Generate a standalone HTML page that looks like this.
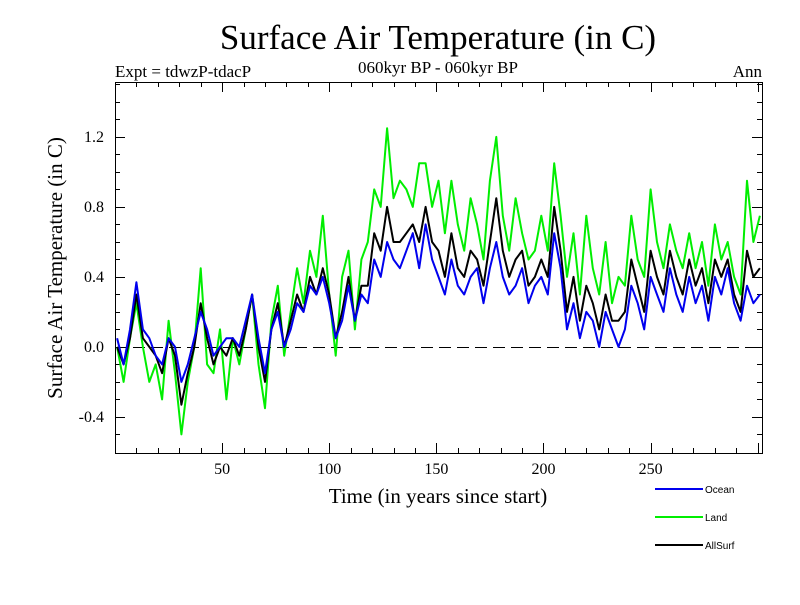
<!DOCTYPE html>
<html><head><meta charset="utf-8"><style>
body{margin:0;background:#fff}
svg text{font-family:"Liberation Serif",serif}
</style></head><body>
<svg id="chart" width="800" height="600" xmlns="http://www.w3.org/2000/svg">
<text x="438" y="49" font-size="35" text-anchor="middle">Surface Air Temperature (in C)</text>
<text x="115" y="77" font-size="17">Expt = tdwzP-tdacP</text>
<text x="438" y="73" font-size="17" text-anchor="middle">060kyr BP - 060kyr BP</text>
<text x="762" y="77" font-size="17" text-anchor="end">Ann</text>
<text x="438" y="503" font-size="21" text-anchor="middle">Time (in years since start)</text>
<text transform="translate(62,268) rotate(-90)" font-size="21" text-anchor="middle">Surface Air Temperature (in C)</text>
<g id="axes"></g>
<g id="series"></g>
<g id="legend"></g>
</svg>
<script>
const years=[1,4,7,10,13,16,19,22,25,28,31,34,37,40,43,46,49,52,55,58,61,64,67,70,73,76,79,82,85,88,91,94,97,100,103,106,109,112,115,118,121,124,127,130,133,136,139,142,145,148,151,154,157,160,163,166,169,172,175,178,181,184,187,190,193,196,199,202,205,208,211,214,217,220,223,226,229,232,235,238,241,244,247,250,253,256,259,262,265,268,271,274,277,280,283,286,289,292,295,298,301];
const ocean=[0.05,-0.1,0.1,0.37,0.1,0.05,-0.05,-0.1,0.05,0.0,
-0.2,-0.1,0.05,0.2,0.1,-0.05,0.0,0.05,0.05,0.0,
0.15,0.3,0.05,-0.15,0.1,0.2,0.0,0.1,0.25,0.2,
0.35,0.3,0.4,0.25,0.05,0.15,0.35,0.15,0.3,0.25,
0.5,0.4,0.6,0.5,0.45,0.55,0.65,0.45,0.7,0.5,
0.4,0.3,0.5,0.35,0.3,0.4,0.45,0.25,0.45,0.6,
0.4,0.3,0.35,0.45,0.25,0.35,0.4,0.3,0.65,0.45,
0.1,0.25,0.05,0.2,0.15,0.0,0.2,0.1,0.0,0.1,
0.35,0.25,0.1,0.4,0.3,0.2,0.45,0.3,0.2,0.4,
0.25,0.35,0.15,0.4,0.3,0.45,0.25,0.15,0.35,0.25,0.3];
const land=[0.0,-0.2,0.05,0.25,0.0,-0.2,-0.1,-0.3,0.15,-0.15,
-0.5,-0.2,0.0,0.45,-0.1,-0.15,0.1,-0.3,0.05,-0.1,
0.1,0.3,-0.1,-0.35,0.15,0.35,-0.05,0.2,0.45,0.25,
0.55,0.4,0.75,0.3,-0.05,0.4,0.55,0.1,0.5,0.6,
0.9,0.8,1.25,0.85,0.95,0.9,0.8,1.05,1.05,0.8,
0.95,0.65,0.95,0.7,0.55,0.85,0.7,0.5,0.95,1.2,
0.75,0.55,0.85,0.65,0.5,0.55,0.75,0.55,1.05,0.75,
0.4,0.65,0.3,0.75,0.45,0.3,0.6,0.25,0.4,0.35,
0.75,0.5,0.4,0.9,0.6,0.45,0.7,0.55,0.45,0.65,
0.45,0.6,0.35,0.7,0.5,0.6,0.4,0.3,0.95,0.6,0.75];
const allsurf=[0.0,-0.1,0.05,0.3,0.05,0.0,-0.05,-0.15,0.05,-0.05,
-0.33,-0.15,0.0,0.25,0.05,-0.1,0.0,-0.05,0.05,-0.05,
0.1,0.3,0.0,-0.2,0.1,0.25,0.0,0.15,0.3,0.2,
0.4,0.3,0.45,0.3,0.05,0.2,0.4,0.15,0.35,0.35,
0.65,0.55,0.8,0.6,0.6,0.65,0.7,0.6,0.8,0.6,
0.55,0.4,0.65,0.45,0.4,0.55,0.5,0.35,0.6,0.85,
0.55,0.4,0.5,0.55,0.35,0.4,0.5,0.4,0.8,0.55,
0.2,0.4,0.15,0.35,0.25,0.1,0.3,0.15,0.15,0.2,
0.5,0.35,0.2,0.55,0.4,0.3,0.55,0.4,0.3,0.5,
0.35,0.45,0.25,0.5,0.4,0.5,0.3,0.2,0.55,0.4,0.45];
const yTickLabels=["-0.4","0.0","0.4","0.8","1.2"];
const yTickValues=[-0.4,0,0.4,0.8,1.2];
const xTickValues=[50,100,150,200,250];

const NS="http://www.w3.org/2000/svg";
const L=115,R=762,T=82,B=453,X0=0,X1=302,Y0=-0.606,Y1=1.514;
const sx=v=>L+(v-X0)/(X1-X0)*(R-L);
const sy=v=>B-(v-Y0)/(Y1-Y0)*(B-T);
function mk(tag,attrs,parent){const e=document.createElementNS(NS,tag);for(const k in attrs)e.setAttribute(k,attrs[k]);parent.appendChild(e);return e;}
const axes=document.getElementById('axes');
const frame=mk('rect',{x:L+0.5,y:T+0.5,width:R-L,height:B-T,fill:'none',stroke:'#000','stroke-width':1},axes);


const zy=Math.round(sy(0))+0.5;
const zl=mk('line',{x1:L,x2:R,y1:zy,y2:zy,stroke:'#000','stroke-dasharray':'12,6','stroke-width':1,'shape-rendering':'crispEdges'},axes);


for(let v=10;v<X1;v+=10){const len=v%50===0?10:5;const x=Math.round(sx(v))+0.5;
 mk('line',{x1:x,x2:x,y1:B,y2:B-len,stroke:'#000'},axes);
 mk('line',{x1:x,x2:x,y1:T,y2:T+len,stroke:'#000'},axes);}
for(let i=-5;i<=15;i++){const v=i/10;const y=Math.round(sy(v))+0.5;if(y<T||y>B)continue;const len=(i%4===0)?10:5;
 mk('line',{x1:L,x2:L+len,y1:y,y2:y,stroke:'#000'},axes);
 mk('line',{x1:R,x2:R-len,y1:y,y2:y,stroke:'#000'},axes);}
xTickValues.forEach(v=>{const t=mk('text',{x:sx(v),y:474,'font-size':16,'text-anchor':'middle'},axes);t.textContent=v;
 
 });
yTickValues.forEach((v,i)=>{const t=mk('text',{x:104,y:sy(v)+5,'font-size':16,'text-anchor':'end'},axes);t.textContent=yTickLabels[i];
 
 });
const sg=document.getElementById('series');
function line(vals,color,name){const d=vals.map((v,i)=>(i?'L':'M')+sx(years[i]).toFixed(1)+','+sy(v).toFixed(1)).join('');
 const p=mk('path',{d:d,fill:'none',stroke:color,'stroke-width':2,'stroke-linejoin':'round'},sg);
 
 }
line(land,'#00ee00','land-line');
line(allsurf,'#000','allsurf-line');
line(ocean,'#0000ee','ocean-line');
const lg=document.getElementById('legend');
[['Ocean','#0000ee',489],['Land','#00ee00',517],['AllSurf','#000',545]].forEach(([n,c,y])=>{
 const g=mk('g',{},lg);
 
 
 mk('line',{x1:655,x2:703,y1:y,y2:y,stroke:c,'stroke-width':2},g);
 const t=mk('text',{x:705,y:y+4,'font-size':10,style:'font-family:"Liberation Sans",sans-serif'},g);t.textContent=n;});
</script>
</body></html>
